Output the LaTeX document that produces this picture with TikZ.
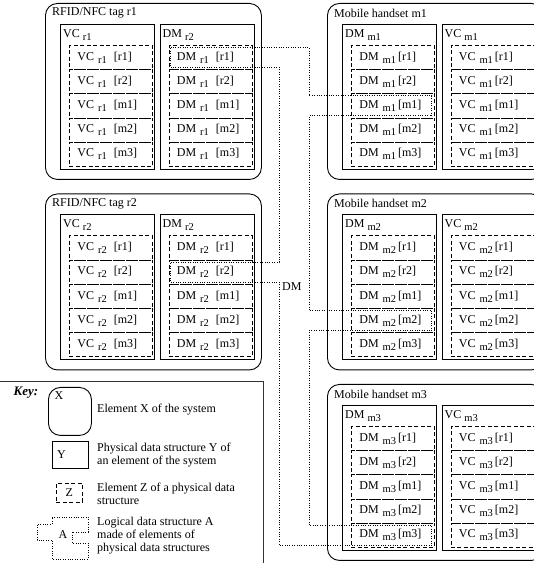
\documentclass[tikz,border=0pt]{standalone}
\usepackage{fontspec}
\setmainfont{Liberation Serif}
\usepackage{tikz}
\usetikzlibrary{positioning}

\newcommand\lo[1]{\raisebox{-3pt}{\fontsize{10.5}{12}\selectfont #1}}
\newcommand\tagname{RFID/NFC tag}
\newcommand\hsname{Mobile handset}

\begin{document}
\begin{tikzpicture}[
    x=1pt, y=1pt,
    font=\fontsize{12}{13}\selectfont,
    device/.style={draw, rounded corners=12pt, line width=0.9pt, minimum width=216pt, minimum height=176pt, anchor=north west, inner sep=0pt},
    store/.style={draw, line width=0.9pt, minimum width=94pt, minimum height=145pt, anchor=north west, inner sep=0pt},
    elem/.style={draw, dash pattern=on 4pt off 2.5pt, line width=0.8pt, minimum height=24.2pt, text width=67pt, inner xsep=8pt, inner ysep=0pt, align=left, anchor=north west},
    title/.style={anchor=west, inner sep=1pt},
    head/.style={anchor=west, inner sep=1pt},
    logic/.style={draw, dash pattern=on 0.8pt off 1.6pt, line width=0.8pt},
    keytext/.style={anchor=west, align=left, inner sep=1pt}
]
\useasboundingbox (0,0) rectangle (534,563);

% tags and handsets
\foreach \d/\xo/\yo/\kind/\ka/\kb/\hb/\gp in {
    r1/45/560/\tagname/VC/DM/r2/7,
    r2/45/369.5/\tagname/VC/DM/r2/7,
    m1/327/560/\hsname/DM/VC/m1/2,
    m2/327/369.5/\hsname/DM/VC/m2/2,
    m3/327/179/\hsname/DM/VC/m3/2} {
  \node[device] (\d) at (\xo,\yo) {};
  \node[title] at ([shift={(6,-10)}]\d.north west) {\kind{} \d};
  \node[store] (\d-a) at ([shift={(15,-21)}]\d.north west) {};
  \node[store] (\d-b) at ([shift={(114.5,-21)}]\d.north west) {};
  \node[head] at ([shift={(2,-11)}]\d-a.north west) {\ka{} \lo{\d}};
  \node[head] at ([shift={(2,-11)}]\d-b.north west) {\kb{} \lo{\hb}};
  \foreach \e [count=\i] in {r1,r2,m1,m2,m3} {
    \pgfmathsetmacro\dy{21+24.2*(\i-1)}
    \node[elem] (\d-a\i) at ([shift={(9,-\dy)}]\d-a.north west) {\ka{} \lo{\d}\hspace{\gp pt}[\e]};
    \node[elem] (\d-b\i) at ([shift={(9,-\dy)}]\d-b.north west) {\kb{} \lo{\d}\hspace{\gp pt}[\e]};
  }
}

% logical structure DM
\coordinate (laneA) at (279,0);
\coordinate (laneB) at (309,0);
\draw[logic]
  ([shift={(2,-2.5)}]r1-b1.north west) -- ([yshift=-2.5]r1-b1.north west -| laneB)
  -- ([yshift=-2.5]m1-a3.north west -| laneB) -- ([shift={(-3,-2.5)}]m1-a3.north east)
  -- ([shift={(-3,2.5)}]m1-a3.south east) -- ([yshift=2.5]m1-a3.south west -| laneB)
  -- ([yshift=-2.5]m2-a4.north west -| laneB) -- ([shift={(-3,-2.5)}]m2-a4.north east)
  -- ([shift={(-3,2.5)}]m2-a4.south east) -- ([yshift=2.5]m2-a4.south west -| laneB)
  -- ([yshift=-2.5]m3-a5.north west -| laneB) -- ([shift={(-3,-2.5)}]m3-a5.north east)
  -- ([shift={(-3,2.5)}]m3-a5.south east) -- ([yshift=2.5]m3-a5.south west -| laneA)
  -- ([yshift=2.5]r2-b2.south east -| laneA) -- ([shift={(2,2.5)}]r2-b2.south west)
  -- ([shift={(2,-2.5)}]r2-b2.north west) -- ([yshift=-2.5]r2-b2.north east -| laneA)
  -- ([yshift=2.5]r1-b1.south east -| laneA) -- ([shift={(2,2.5)}]r1-b1.south west) -- cycle;
\node[anchor=west, inner sep=1pt] (dm) at ([shift={(2,-2)}]r2-b2.south east -| laneA) {DM};

% key
\draw[line width=0.9pt, black!80] (0,182) -- (263,182) -- (263,0);
\node[font=\fontsize{13}{14}\bfseries\itshape\selectfont, inner sep=1pt] (key) at (26,170) {Key:};
\node[device, minimum width=43pt, minimum height=48pt] (kx) at (48,176) {};
\node[inner sep=1pt] at ([shift={(11,-9)}]kx.north west) {X};
\node[keytext] (kxt) at (96,153) {Element X of the system};
\node[store, minimum width=36pt, minimum height=27pt] (ky) at (52,122) {};
\node[anchor=west, inner sep=1pt] at ([xshift=4]ky.west) {Y};
\node[keytext] (kyt) at (96,108) {Physical data structure Y of\\an element of the system};
\node[elem, text width={}, minimum width=26pt, minimum height=19pt, inner xsep=0pt, align=center] (kz) at (56,80) {Z};
\node[keytext] (kzt) at (96,69.5) {Element Z of a physical data\\structure};
\draw[logic] (52,46) -- (88,46) -- (88,31) -- (72,31) -- (72,20) -- (88,20) -- (88,4)
  -- (52,4) -- (52,23) -- (37,23) -- (37,39) -- (52,39) -- cycle;
\node[inner sep=1pt] (ka) at (63,28) {A};
\node[keytext] (kat) at (96,27) {Logical data structure A\\made of elements of\\physical data structures};
\end{tikzpicture}
\end{document}
